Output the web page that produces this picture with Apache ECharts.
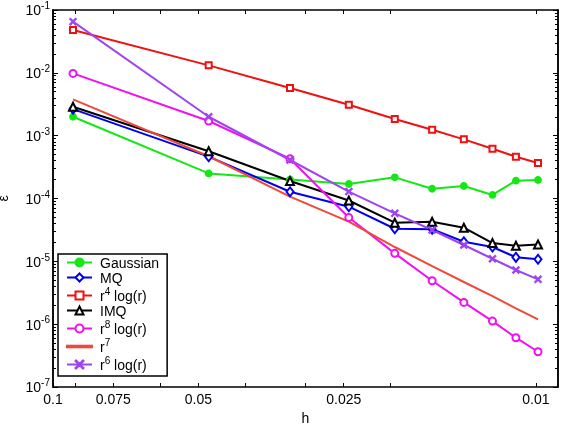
<!DOCTYPE html>
<html>
<head>
<meta charset="utf-8">
<script src="https://cdn.jsdelivr.net/npm/echarts@6/dist/echarts.min.js"></script>
<style>
html, body { margin: 0; padding: 0; background: #fff; }
#chart { width: 562px; height: 426px; }
</style>
</head>
<body>
<div id="chart"></div>
<script>
// mesh size h and error for each basis function
const hValues = [0.0909, 0.0476, 0.0323, 0.0244, 0.0196, 0.0164, 0.0141, 0.0123, 0.0110, 0.0099]
const gaussian = [2.0e-3, 2.51e-4, 2.0e-4, 1.7e-4, 2.17e-4, 1.43e-4, 1.58e-4, 1.14e-4, 1.92e-4, 1.97e-4]
const mq = [2.65e-3, 4.63e-4, 1.28e-4, 7.4e-5, 3.3e-5, 3.25e-5, 2.05e-5, 1.69e-5, 1.16e-5, 1.08e-5]
const r4log = [4.81e-2, 1.315e-2, 5.74e-3, 3.11e-3, 1.84e-3, 1.245e-3, 8.74e-4, 6.2e-4, 4.63e-4, 3.67e-4]
const imq = [2.89e-3, 5.65e-4, 1.9e-4, 9.3e-5, 4.12e-5, 4.25e-5, 3.43e-5, 1.95e-5, 1.77e-5, 1.85e-5]
const r8log = [9.8e-3, 1.71e-3, 4.3e-4, 4.97e-5, 1.34e-5, 4.91e-6, 2.22e-6, 1.12e-6, 6.09e-7, 3.64e-7]
const r7 = [3.79e-3, 4.7e-4, 1.07e-4, 4.28e-5, 1.69e-5, 8.4e-6, 4.69e-6, 2.8e-6, 1.79e-6, 1.19e-6]
const r6log = [6.52e-2, 2.0e-3, 4.1e-4, 1.29e-4, 5.81e-5, 3.15e-5, 1.82e-5, 1.1e-5, 7.28e-6, 5.17e-6]

const seriesNames = ['Gaussian', 'MQ', 'r^4 log(r)', 'IMQ', 'r^8 log(r)', 'r^7', 'r^6 log(r)']
const xTickLabels = [0.1, 0.075, 0.05, 0.025, 0.01]
const xMinorTicks = [0.1, 0.09, 0.075, 0.06, 0.05, 0.04, 0.03, 0.025, 0.02, 0.01]
const yTickLabels = [1e-7, 1e-6, 1e-5, 1e-4, 1e-3, 1e-2, 1e-1]

const font = 'Liberation Sans, Arial, sans-serif'

let yMinorTicks = []
for (let e = -7; e < -1; e++) {
    for (let m = 2; m <= 9; m++) {
        yMinorTicks.push(+(m * Math.pow(10, e)).toPrecision(2))
    }
}

// "r^4 log(r)" -> rich text with superscript
const supText = (name) => {
    const m = name.match(/^r\^(\d)(.*)$/)
    if (!m) return '{b|' + name + '}'
    return '{b|r}{s|' + m[1] + '}' + (m[2] ? '{b|' + m[2] + '}' : '')
}

const rich = {
    b: { fontSize: 14, fontFamily: font, color: '#000', lineHeight: 17, verticalAlign: 'bottom' },
    s: { fontSize: 10, fontFamily: font, color: '#000', lineHeight: 11, verticalAlign: 'top' },
}

const crossPath = 'path://M0,0.7 L0.7,0 L5,4.3 L9.3,0 L10,0.7 L5.7,5 L10,9.3 L9.3,10 L5,5.7 L0.7,10 L0,9.3 L4.3,5 Z'
const lineIcon = 'path://M0,0 L25,0 L25,1.6 L0,1.6 Z'

const makeSeries = (name, data, color, symbol, size) => {
    return {
        name: name,
        type: 'line',
        data: hValues.map((h, i) => [h, data[i]]),
        symbol: symbol,
        symbolSize: size,
        showSymbol: symbol !== 'none',
        lineStyle: { color: color, width: 2 },
        itemStyle: { color: color, borderColor: color, borderWidth: 1.8 },
        emphasis: { disabled: true },
        animation: false,
    }
}

const series = [
    makeSeries(seriesNames[0], gaussian, '#14e814', 'circle', 6),
    makeSeries(seriesNames[1], mq, '#0000f0', 'emptyDiamond', [7, 9]),
    makeSeries(seriesNames[2], r4log, '#f01010', 'emptyRect', 6),
    makeSeries(seriesNames[3], imq, '#000000', 'emptyTriangle', 8),
    makeSeries(seriesNames[4], r8log, '#f010f0', 'emptyCircle', 7),
    makeSeries(seriesNames[5], r7, '#ee4a3c', 'none', 0),
    makeSeries(seriesNames[6], r6log, '#a044ee', crossPath, 6),
]

const axisLine = { show: true, onZero: false, lineStyle: { color: '#000', width: 1.5 } }

const xBase = {
    type: 'log',
    inverse: true,
    min: 0.009,
    max: 0.1,
    axisLine: axisLine,
    splitLine: { show: false },
    minorTick: { show: false },
}
const yBase = {
    type: 'log',
    min: 1e-7,
    max: 1e-1,
    axisLine: axisLine,
    splitLine: { show: false },
    minorTick: { show: false },
}

const chart = echarts.init(document.getElementById('chart'))
const option = {
    backgroundColor: '#fff',
    animation: false,
    grid: { left: 53, right: 4, top: 10, bottom: 39, containLabel: false, outerBoundsMode: 'none' },
    xAxis: [
        {
            ...xBase,
            position: 'bottom',
            name: 'h',
            nameLocation: 'middle',
            nameGap: 25,
            nameTextStyle: { fontSize: 14, fontFamily: font, color: '#000' },
            axisTick: { show: true, inside: true, length: 4, customValues: xMinorTicks, lineStyle: { color: '#000', width: 1 } },
            axisLabel: {
                show: true, customValues: xTickLabels, margin: 6,
                fontSize: 14, fontFamily: font, color: '#000',
                formatter: (v) => String(+Number(v).toPrecision(3)),
            },
        },
        {
            ...xBase,
            position: 'top',
            axisTick: { show: true, inside: true, length: 4, customValues: xMinorTicks, lineStyle: { color: '#000', width: 1 } },
            axisLabel: { show: false },
        },
    ],
    yAxis: [
        {
            ...yBase,
            position: 'left',
            name: 'ε',
            nameLocation: 'middle',
            nameGap: 42,
            nameRotate: 90,
            nameTextStyle: { fontSize: 14, fontFamily: font, color: '#000' },
            axisTick: { show: true, inside: true, length: 5, customValues: yTickLabels, lineStyle: { color: '#000', width: 1 } },
            axisLabel: {
                show: true, customValues: yTickLabels, margin: 3,
                formatter: (v) => '{b|10}{s|' + Math.round(Math.log10(v)) + '}',
                rich: rich,
            },
        },
        {
            ...yBase,
            position: 'left',
            axisTick: { show: true, inside: true, length: 3, customValues: yMinorTicks, lineStyle: { color: '#000', width: 1 } },
            axisLabel: { show: false },
        },
        {
            ...yBase,
            position: 'right',
            axisTick: { show: true, inside: true, length: 5, customValues: yTickLabels, lineStyle: { color: '#000', width: 1 } },
            axisLabel: { show: false },
        },
        {
            ...yBase,
            position: 'right',
            axisTick: { show: true, inside: true, length: 3, customValues: yMinorTicks, lineStyle: { color: '#000', width: 1 } },
            axisLabel: { show: false },
        },
    ],
    legend: {
        orient: 'vertical',
        left: 58,
        top: 254,
        backgroundColor: '#fff',
        borderColor: '#000',
        borderWidth: 1.5,
        borderRadius: 0,
        padding: [3, 8, 3, 8],
        itemGap: 1,
        itemWidth: 25,
        itemHeight: 10,
        selectedMode: false,
        data: seriesNames.map((n) => n === 'r^7' ? { name: n, icon: lineIcon } : n),
        formatter: (name) => supText(name),
        textStyle: { fontSize: 14, fontFamily: font, color: '#000', padding: [0, 0, 0, 3], rich: rich },
    },
    series: series,
}
chart.setOption(option)
window.addEventListener('resize', () => {
    chart.resize()
})
</script>
</body>
</html>
